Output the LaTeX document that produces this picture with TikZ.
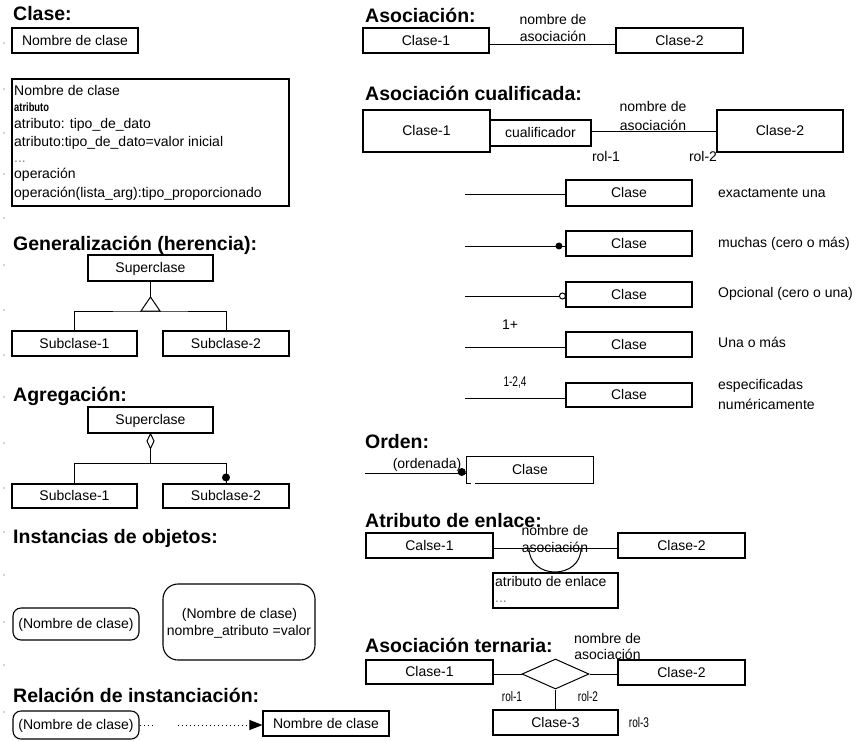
\documentclass[tikz,border=0pt]{standalone}
\usepackage{fontspec}
\setmainfont{Liberation Sans}
\usepackage{graphicx}
\usetikzlibrary{shapes.geometric,arrows.meta,calc}

\newcommand\txtfont{\fontsize{14}{17}\selectfont}
\newcommand\headfont{\fontsize{19.5}{22}\selectfont\bfseries}
\newcommand\smallsq[1]{\scalebox{0.72}[1]{\fontsize{14}{16}\selectfont #1}}

\tikzset{
  wh/.style 2 args={minimum width=#1pt, minimum height=#2pt},
  box/.style={draw, line width=1.1pt, inner sep=0pt, font=\txtfont, text height=10pt, text depth=1pt},
  rbox/.style={box, rounded corners=8pt},
  txt/.style={inner sep=0pt, font=\txtfont, text height=10pt, text depth=1pt},
  head/.style={inner sep=0pt, font=\headfont, anchor=base west},
  link/.style={line width=1pt},
  dotmark/.style={fill=gray!70},
  dotted line/.style={line width=1pt, dash pattern=on 1pt off 3pt},
}

\begin{document}
\begin{tikzpicture}[x=1pt,y=-1pt]
\useasboundingbox[fill=white] (0,0) rectangle (862,740);

% paragraph marks along the left margin
\foreach \y in {43,89,133,174,218,265,310,355,397,443,488,532,575,622,665,712}
  \fill[dotmark] (4,\y) circle (0.8pt);

% ---------- Clase ----------
\node[head] (hclase) at (13,20) {Clase:};
\node[box, wh={126}{25}] (cn) at (75,40.5) {Nombre de clase};
\node[box, wh={277}{127}] (cf) at (150.5,142.5) {};
\node[txt, anchor=west] (cf1) at (14,91) {Nombre de clase};
\node[txt, anchor=west] (cf2) at (14,107) {\scalebox{0.78}[1]{\fontsize{12}{14}\selectfont\bfseries atributo}};
\node[txt, anchor=west] (cf3) at (14,124) {atributo: tipo\_de\_dato};
\node[txt, anchor=west] (cf4) at (14,142) {atributo:tipo\_de\_dato=valor inicial};
\node[txt, anchor=west, text=gray] (cf5) at (14,158) {...};
\node[txt, anchor=west] (cf6) at (14,174) {operación};
\node[txt, anchor=west] (cf7) at (14,193) {operación(lista\_arg):tipo\_proporcionado};

% ---------- Generalización ----------
\node[head] (hgen) at (13,250) {Generalización (herencia):};
\node[box, wh={125}{26}] (gsup) at (150.5,268) {Superclase};
\node[box, wh={125}{25}] (gs1) at (74.5,343.5) {Subclase-1};
\node[box, wh={126}{25}] (gs2) at (226,343.5) {Subclase-2};
\coordinate (gtip) at (150.5,297);
\coordinate (gbar) at (150.5,311);
\draw[link] (gsup.south) -- (gtip);
\draw[link] (gtip) -- ++(-9.5,14) -- ++(19,0) -- cycle;
\draw[link] (gs1.north) |- (gbar) -| (gs2.north);

% ---------- Agregación ----------
\node[head] (hagr) at (13,401) {Agregación:};
\node[box, wh={125}{26}] (asup) at (150.5,420) {Superclase};
\node[box, wh={125}{24}] (as1) at (74.5,496) {Subclase-1};
\node[box, wh={126}{24}] (as2) at (226,496) {Subclase-2};
\coordinate (abar) at (150.5,463);
\draw[link, fill=white] (asup.south) -- ++(-3.5,7.5) -- ++(3.5,7.5) -- ++(3.5,-7.5) -- cycle;
\draw[link] ($(asup.south)+(0,15)$) -- (abar);
\draw[link] (as1.north) |- (abar) -| (as2.north);
\fill ($(as2.north)+(0,-6)$) circle (4pt);

% ---------- Instancias de objetos ----------
\node[head] (hinst) at (13,543) {Instancias de objetos:};
\node[rbox, wh={126}{32}] (io1) at (76,624) {(Nombre de clase)};
\node[box, rounded corners=15pt, wh={152}{76}] (io2) at (239,622) {};
\node[txt] (io2a) at (239.5,614) {(Nombre de clase)};
\node[txt] (io2b) at (239,631) {nombre\_atributo =valor};

% ---------- Relación de instanciación ----------
\node[head] (hrel) at (13,702) {Relación de instanciación:};
\node[rbox, wh={126}{28}] (ri) at (76,725) {(Nombre de clase)};
\node[box, wh={126}{25}] (rc) at (326,723.5) {Nombre de clase};
\coordinate (rgap) at (178,725);
\draw[dotted line] (ri.east) -- ++(15,0);
\draw[dotted line, -{Triangle[length=13pt,width=10pt]}] (rgap) -- (rgap -| rc.west);

% ---------- Asociación ----------
\node[head] (hasoc) at (365,22) {Asociación:};
\node[box, wh={126}{25}] (a1) at (426,40.5) {Clase-1};
\node[box, wh={127}{25}] (a2) at (679.5,40.5) {Clase-2};
\draw[link] ([yshift=-3.5pt]a1.east) -- ([yshift=-3.5pt]a2.west);
\node[txt] (an1) at (553,20) {nombre de};
\node[txt] (an2) at (553,37) {asociación};

% ---------- Asociación cualificada ----------
\node[head] (hcual) at (365,100) {Asociación cualificada:};
\node[box, wh={127}{42}] (q1) at (426.5,131) {Clase-1};
\node[box, wh={101}{26}] (qq) at (540.5,133) {cualificador};
\node[box, wh={126}{42}] (q2) at (780,131) {Clase-2};
\node[txt] (qn1) at (653,107) {nombre de};
\node[txt] (qn2) at (653,126) {asociación};
\draw[link] (q2.west -| qq.east) -- (q2.west);
\node[txt] (qr1) at (606,157) {rol-1};
\node[txt] (qr2) at (703,157) {rol-2};

% ---------- Multiplicidad ----------
\node[box, wh={126}{26}] (m1) at (629,193) {Clase};
\coordinate (m1l) at (465,194);
\draw[link] (m1l) -- (m1l -| m1.west);
\node[txt, anchor=west] (m1t) at (718,193) {exactamente una};

\node[box, wh={126}{25}] (m2) at (629,243.5) {Clase};
\coordinate (m2l) at (465,246);
\draw[link] (m2l) -- (m2l -| m2.west);
\fill ($(m2l -| m2.west)+(-6.5,0)$) circle (3.5pt);
\node[txt, anchor=west] (m2t) at (718,243) {muchas (cero o más)};

\node[box, wh={126}{25}] (m3) at (629,294.5) {Clase};
\coordinate (m3l) at (465,296);
\draw[link] (m3l) -- (m3l -| m3.west);
\draw[link, fill=white] ($(m3l -| m3.west)+(-3,0)$) circle (3pt);
\node[txt, anchor=west] (m3t) at (718,293) {Opcional (cero o una)};

\node[box, wh={126}{25}] (m4) at (629,344.5) {Clase};
\coordinate (m4l) at (465,347);
\draw[link] (m4l) -- (m4l -| m4.west);
\node[txt] (m4n) at (510,325) {1+};
\node[txt, anchor=west] (m4t) at (718,343) {Una o más};

\node[box, wh={126}{24}] (m5) at (629,395) {Clase};
\coordinate (m5l) at (465,398);
\draw[link] (m5l) -- (m5l -| m5.west);
\node[txt] (m5n) at (515,382) {\smallsq{1-2,4}};
\node[txt, anchor=west] (m5t1) at (718,385) {especificadas};
\node[txt, anchor=west] (m5t2) at (718,405) {numéricamente};

% ---------- Orden ----------
\node[head] (hord) at (365,448) {Orden:};
\node[txt, wh={126}{26}] (ord) at (530,470) {Clase};
\draw[line width=1.1pt] ([xshift=8pt]ord.south west) -- (ord.south east) -- (ord.north east)
  -- (ord.north west) -- (ord.south west) -- ++(4,0);
\coordinate (ordl) at (365,473);
\node[txt] (ordt) at (427,464) {(ordenada)};
\draw[link] (ordl) -- (ordl -| ord.west);
\fill ($(ordl -| ord.west)+(-5,-1)$) circle (4pt);

% ---------- Atributo de enlace ----------
\node[head] (hatr) at (365,527) {Atributo de enlace:};
\node[box, wh={127}{25}] (l1) at (429.5,545.5) {Calse-1};
\node[box, wh={127}{25}] (l2) at (681.5,545.5) {Clase-2};
\node[txt] (ln1) at (555,531) {nombre de};
\node[txt] (ln2) at (555,548) {asociación};
\coordinate (lmid) at (555,548);
\draw[link] (lmid -| l1.east) -- (lmid -| l2.west);
\draw[link] ($(lmid)+(-26,0)$) .. controls +(0,32) and +(0,32) .. ($(lmid)+(26,0)$);
\node[box, wh={125}{35}] (lattr) at (555.5,590.5) {};
\node[txt, anchor=west] (la1) at (495,582) {atributo de enlace};
\node[txt, anchor=west, text=gray] (la2) at (495,598) {...};

% ---------- Asociación ternaria ----------
\node[head] (hter) at (365,652) {Asociación ternaria:};
\node[txt] (tn1) at (607.5,639) {nombre de};
\node[txt] (tn2) at (607.5,655) {asociación};
\node[box, wh={127}{24}] (t1) at (429.5,672) {Clase-1};
\node[box, wh={127}{25}] (t2) at (681.5,672.5) {Clase-2};
\node[draw, diamond, line width=1pt, minimum width=67pt, minimum height=30pt, inner sep=0pt] (td) at (555.5,674) {};
\node[box, wh={125}{25}] (t3) at (555.5,722.5) {Clase-3};
\draw[link] (td.west -| t1.east) -- (td.west);
\draw[link] (td.east) -- (td.east -| t2.west);
\draw[link] (td.south) -- (t3.north);
\node[txt] (tr1) at (512,697) {\smallsq{rol-1}};
\node[txt] (tr2) at (588,697) {\smallsq{rol-2}};
\node[txt] (tr3) at (639,723) {\smallsq{rol-3}};

\end{tikzpicture}
\end{document}
